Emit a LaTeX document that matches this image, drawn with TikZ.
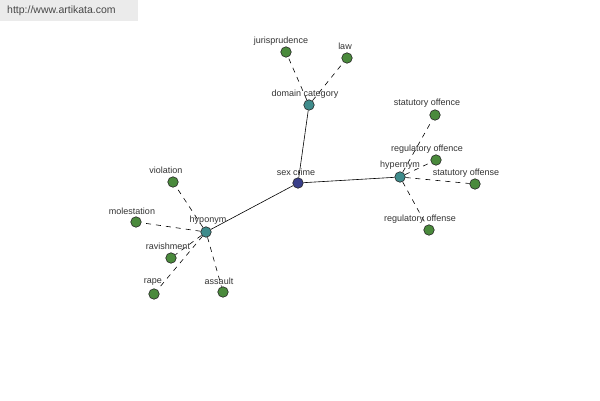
\documentclass[tikz,border=0pt]{standalone}
\usepackage{fontspec}
\setmainfont{Liberation Sans}
\begin{document}
\begin{tikzpicture}[x=1pt,y=-1pt,
  leaf/.style={circle,draw=black!85,line width=0.6pt,fill=leafgreen,minimum size=10.5pt,inner sep=0pt},
  mid/.style={circle,draw=black!85,line width=0.6pt,fill=midteal,minimum size=10.5pt,inner sep=0pt},
  root/.style={circle,draw=black!85,line width=0.6pt,fill=rootblue,minimum size=10.5pt,inner sep=0pt},
  lbl/.style={font=\fontsize{9}{10}\selectfont,text=black!80,inner sep=0pt},
  solidedge/.style={draw=black,line width=0.6pt},
  dashedge/.style={draw=black,line width=0.6pt,dash pattern=on 5pt off 5pt}]
\definecolor{leafgreen}{HTML}{4A8A3C}
\definecolor{midteal}{HTML}{3F8C8C}
\definecolor{rootblue}{HTML}{3A3F8A}
\useasboundingbox (0,0) rectangle (600,400);
\fill[white] (0,0) rectangle (600,400);
\fill[black!8] (0,0) rectangle (138,21);
\node[font=\fontsize{10.5}{12}\selectfont,text=black!72,anchor=west,inner sep=0pt] (wm) at (7,11) {http://www.artikata.com};
% nodes
\node[root] (sex) at (298,183) {};
\node[mid] (dom) at (309,105) {};
\node[leaf] (jur) at (286,52) {};
\node[leaf] (law) at (347,58) {};
\node[mid] (hyper) at (400,177) {};
\node[leaf] (sofc) at (435,115) {};
\node[leaf] (rofc) at (436,160) {};
\node[leaf] (sofs) at (475,184) {};
\node[leaf] (rofs) at (429,230) {};
\node[mid] (hypo) at (206,232) {};
\node[leaf] (vio) at (173,182) {};
\node[leaf] (mol) at (136,222) {};
\node[leaf] (rav) at (171,258) {};
\node[leaf] (rape) at (154,294) {};
\node[leaf] (ass) at (223,292) {};
% edges
\path[solidedge] (sex) -- (dom);
\path[solidedge] (sex) -- (hyper);
\path[solidedge] (sex) -- (hypo);
\path[dashedge] (dom) -- (jur);
\path[dashedge] (dom) -- (law);
\path[dashedge] (hyper) -- (sofc);
\path[dashedge] (hyper) -- (rofc);
\path[dashedge] (hyper) -- (sofs);
\path[dashedge] (hyper) -- (rofs);
\path[dashedge] (hypo) -- (vio);
\path[dashedge] (hypo) -- (mol);
\path[dashedge] (hypo) -- (rav);
\path[dashedge] (hypo) -- (rape);
\path[dashedge] (hypo) -- (ass);
% labels
\node[lbl] (lsex) at (296,172) {sex crime};
\node[lbl] (ldom) at (305,94) {domain category};
\node[lbl] (ljur) at (281,41) {jurisprudence};
\node[lbl] (llaw) at (345,46) {law};
\node[lbl] (lhyper) at (400,165) {hypernym};
\node[lbl] (lsofc) at (427,103) {statutory offence};
\node[lbl] (lrofc) at (427,149) {regulatory offence};
\node[lbl] (lsofs) at (466,173) {statutory offense};
\node[lbl] (lrofs) at (420,219) {regulatory offense};
\node[lbl] (lhypo) at (208,220) {hyponym};
\node[lbl] (lvio) at (166,170) {violation};
\node[lbl] (lmol) at (132,211) {molestation};
\node[lbl] (lrav) at (168,246) {ravishment};
\node[lbl] (lrape) at (153,282) {rape};
\node[lbl] (lass) at (219,281) {assault};
\end{tikzpicture}
\end{document}
